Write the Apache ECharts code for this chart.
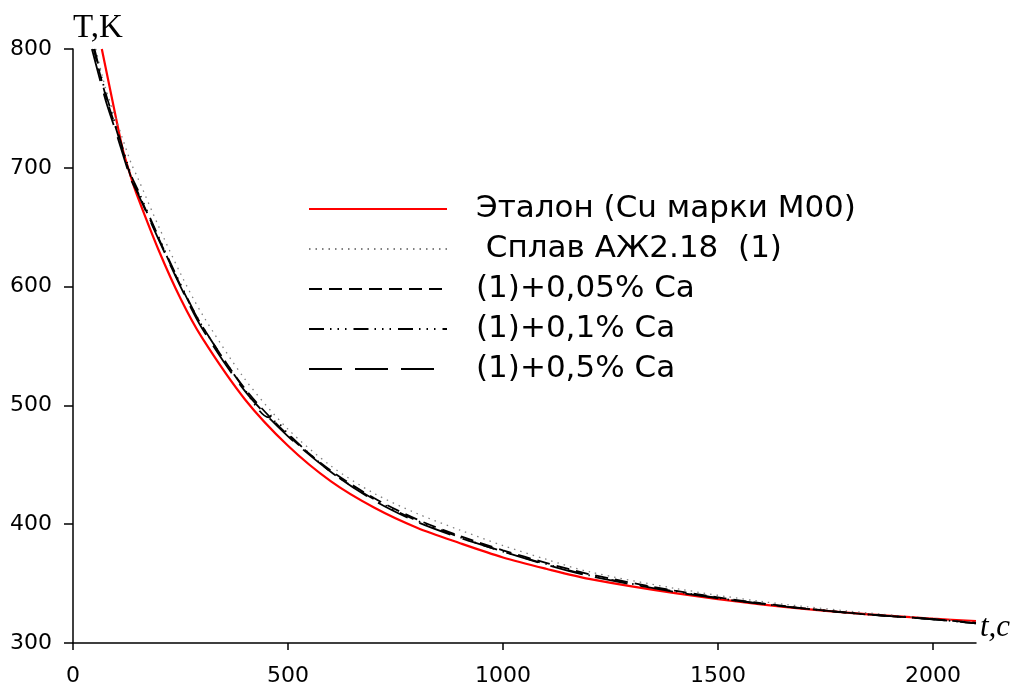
<!DOCTYPE html>
<html>
<head>
<meta charset="utf-8">
<script src="https://cdn.jsdelivr.net/npm/echarts@6/dist/echarts.min.js"></script>
<style>
  html, body { margin: 0; padding: 0; background: #fff; }
  #cooling-chart { width: 1015px; height: 687px; }
</style>
</head>
<body>
<div id="cooling-chart"></div>
<script>
// cooling curves, time t (s) vs temperature T (K)
const seriesNames = [
  'Эталон (Cu марки М00)',
  ' Сплав АЖ2.18  (1)',
  '(1)+0,05% Ca',
  '(1)+0,1% Ca',
  '(1)+0,5% Ca'
];

const xTicks = [0, 500, 1000, 1500, 2000];
const yTicks = [300, 400, 500, 600, 700, 800];

const tEtalon = [67, 100, 116, 135, 150, 200, 250, 300, 400, 500, 600, 700, 800, 900, 1000, 1100, 1200, 1400, 1600, 1800, 2000, 2100];
const tempEtalon = [800, 742, 715, 692, 676, 630, 590, 557, 505, 466, 436, 414, 397, 384, 372, 362.5, 354, 342, 332.5, 325.5, 320.5, 318.5];

const tSplav = [53, 75, 100, 135, 150, 200, 250, 300, 400, 500, 600, 700, 800, 900, 1000, 1100, 1200, 1400, 1600, 1800, 2000, 2100];
const tempSplav = [800, 768, 741, 704, 692, 650, 611, 577, 522, 480, 449, 426, 409, 395, 382, 370.5, 360, 346, 335, 327, 320.5, 317.5];

const tCa005 = [48, 75, 100, 135, 150, 200, 250, 300, 400, 500, 600, 700, 800, 900, 1000, 1100, 1200, 1400, 1600, 1800, 2000, 2100];
const tempCa005 = [800, 762, 733, 692, 680, 640, 601, 567, 514, 475, 445, 422, 404, 390, 378, 367.5, 358, 344, 333.5, 325.5, 320, 317];

const tCa01 = [50, 75, 100, 135, 150, 200, 250, 300, 400, 455, 462, 470, 480, 500, 600, 700, 800, 900, 1000, 1100, 1200, 1400, 1600, 1800, 2000, 2100];
const tempCa01 = [800, 764, 735, 694, 682, 641, 602, 567, 513, 490, 491.5, 486, 484.5, 476, 444, 421, 403, 389, 377, 366.5, 357, 343.5, 333, 325.5, 320, 316.5];

const tCa05 = [44, 75, 100, 135, 150, 200, 250, 300, 400, 500, 600, 700, 800, 900, 1000, 1100, 1200, 1400, 1600, 1800, 2000, 2100];
const tempCa05 = [800, 758, 730, 690, 679, 639, 600, 565, 512, 474, 444, 420, 402, 388.5, 377, 366, 356.5, 343, 333, 325.5, 320, 316.5];

function pairs(ts, temps) {
  return ts.map((t, i) => [t, temps[i]]);
}

let chart = echarts.init(document.getElementById('cooling-chart'));

function curve(name, data, color, width, dash) {
  return {
    name: name,
    type: 'line',
    data: data,
    symbol: 'none',
    smooth: 0.3,
    itemStyle: { color: color },
    lineStyle: { color: color, width: width, type: dash }
  };
}

let option = {
  animation: false,
  backgroundColor: '#fff',
  grid: { left: 73, right: 39, top: 49, bottom: 44, containLabel: false },
  legend: {
    orient: 'vertical',
    left: 303,
    top: 187,
    itemWidth: 138,
    itemHeight: 14,
    itemGap: 6,
    data: seriesNames,
    // hide the symbol dot in the legend icon, keep the line
    itemStyle: { opacity: 0 },
    textStyle: {
      fontFamily: 'DejaVu Sans',
      fontSize: 31,
      color: '#000',
      lineHeight: 34,
      padding: [0, 0, 0, 24]
    }
  },
  xAxis: {
    type: 'value',
    min: 0,
    max: 2100,
    interval: 500,
    name: 't,c',
    nameLocation: 'end',
    nameGap: 4,
    nameTextStyle: {
      fontFamily: 'Liberation Serif',
      fontStyle: 'italic',
      fontSize: 31,
      color: '#000',
      verticalAlign: 'bottom'
    },
    splitLine: { show: false },
    axisLine: { lineStyle: { color: '#000', width: 1.5 } },
    axisTick: { length: 7, customValues: xTicks, lineStyle: { color: '#000', width: 1.5 } },
    axisLabel: {
      customValues: xTicks,
      margin: 22,
      fontFamily: 'DejaVu Sans',
      fontSize: 22,
      color: '#000',
      formatter: v => String(v)
    }
  },
  yAxis: {
    type: 'value',
    min: 300,
    max: 800,
    interval: 100,
    name: 'T,K',
    nameLocation: 'end',
    nameGap: 4,
    nameTextStyle: {
      fontFamily: 'Liberation Serif',
      fontSize: 33,
      color: '#000',
      align: 'left'
    },
    splitLine: { show: false },
    axisLine: { show: true, lineStyle: { color: '#000', width: 1.5 } },
    axisTick: { show: true, length: 9, customValues: yTicks, lineStyle: { color: '#000', width: 1.5 } },
    axisLabel: {
      customValues: yTicks,
      margin: 21,
      fontFamily: 'DejaVu Sans',
      fontSize: 22,
      color: '#000',
      formatter: v => String(v)
    }
  },
  series: [
    curve(seriesNames[0], pairs(tEtalon, tempEtalon), '#ff0000', 2.2, 'solid'),
    curve(seriesNames[1], pairs(tSplav, tempSplav), '#808080', 1.3, [1.5, 5]),
    curve(seriesNames[2], pairs(tCa005, tempCa005), '#000', 1.8, [13, 7]),
    curve(seriesNames[3], pairs(tCa01, tempCa01), '#000', 1.8, [15, 6, 1.5, 6, 1.5, 6, 1.5, 7]),
    curve(seriesNames[4], pairs(tCa05, tempCa05), '#000', 1.8, [33, 13])
  ]
};

chart.setOption(option);
</script>
</body>
</html>
